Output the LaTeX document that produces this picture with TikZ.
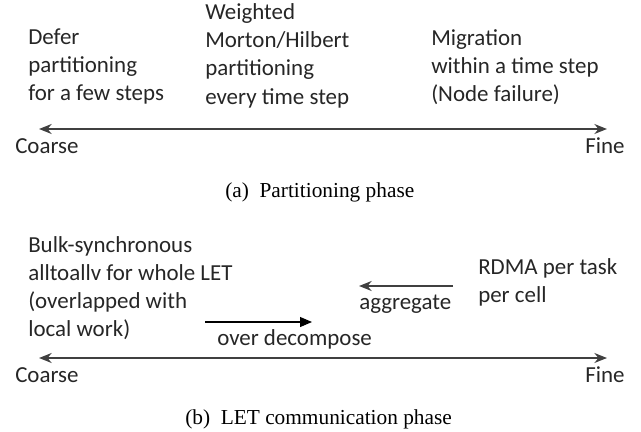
\documentclass[tikz,border=0pt]{standalone}
\usepackage{fontspec}
\setmainfont{Carlito}
\newfontfamily\capfont{Liberation Serif}
\usepackage{xcolor}
\usepackage{tikz}
\usetikzlibrary{arrows.meta}
\usetikzlibrary{positioning}

\definecolor{txtgray}{HTML}{262626}
\definecolor{linegray}{HTML}{404040}

\begin{document}
\begin{tikzpicture}[x=0.75pt, y=-0.75pt,
	note/.style={anchor=base west, inner sep=0pt, align=left, text=txtgray, font=\fontsize{17.2pt}{21pt}\selectfont},
	capt/.style={anchor=base west, inner sep=0pt, font=\capfont\fontsize{16pt}{19pt}\selectfont},
	spectrum/.style={linegray, line width=1.1pt, {Stealth[length=9.5pt, width=7.5pt]}-{Stealth[length=9.5pt, width=7.5pt]}},
	finer/.style={linegray, line width=1.3pt, -{Stealth[length=9.5pt, width=7.5pt]}},
	coarser/.style={black, line width=0.8pt, -{Triangle[length=9pt, width=7.5pt]}}]
	\useasboundingbox (0,0) rectangle (641,431);
	% (a) partitioning -- multi-line notes sit on the baseline of their last line
	\coordinate (CA) at (39,129);
	\coordinate (FA) at (607,129);
	\draw[spectrum] (CA) -- (FA);
	\node[note] (coarseA) at (15,153) {Coarse};
	\node[note] (fineA) at (585,153) {Fine};
	\node[note] (defer) at (28,101) {Defer\\partitioning\\for a few steps};
	\node[note] (weighted) at (205,104) {Weighted\\Morton/Hilbert\\partitioning\\every time step};
	\node[note] (migr) at (431,102) {Migration\\within a time step\\(Node failure)};
	\node[capt] (captA) at (225,197) {(a)\ \ Partitioning phase};
	% (b) LET communication
	\coordinate (CB) at (39,358);
	\coordinate (FB) at (607,358);
	\draw[spectrum] (CB) -- (FB);
	\node[note] (coarseB) at (15,382) {Coarse};
	\node[note] (fineB) at (585,382) {Fine};
	\node[note] (bulk) at (28,336) {Bulk-synchronous\\alltoallv for whole LET\\(overlapped with\\local work)};
	\node[note] (rdma) at (478,302) {RDMA per task\\per cell};
	\coordinate (odS) at (205,322);
	\coordinate (odE) at (312,322);
	\draw[coarser] (odS) -- (odE);
	\node[note] (overdec) at (217,345) {over decompose};
	\coordinate (agS) at (453,286);
	\coordinate (agE) at (359,286);
	\draw[finer] (agS) -- (agE);
	\node[note] (aggr) at (359,309) {aggregate};
	\node[capt] (captB) at (185,424) {(b)\ \ LET communication phase};
\end{tikzpicture}
\end{document}
